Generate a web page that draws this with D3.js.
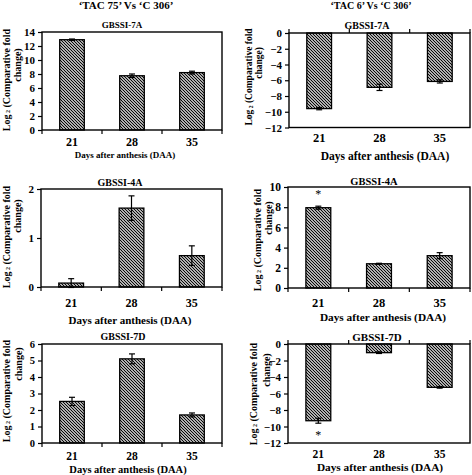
<!DOCTYPE html>
<html><head><meta charset="utf-8">
<script src="https://cdn.jsdelivr.net/npm/d3@7"></script>
<style>body{margin:0;background:#fff}svg{display:block}text{font-family:"Liberation Serif","Times New Roman",serif !important;font-weight:bold;fill:#000}</style>
</head><body><svg id="c" width="472" height="475"></svg>
<script>
// ---- data ----
const days = ["21", "28", "35"];
const comparisons = ["\u2018TAC 75\u2019 Vs \u2018C 306\u2019", "\u2018TAC 6\u2019 Vs \u2018C 306\u2019"];
const genes = ["GBSSI-7A", "GBSSI-7A", "GBSSI-4A", "GBSSI-4A", "GBSSI-7D", "GBSSI-7D"];
const val7A_TAC75 = [12.9, 7.75, 8.2];
const err7A_TAC75 = [0.1, 0.25, 0.2];
const val7A_TAC6 = [-9.6, -6.9, -6.15];
const err7A_TAC6 = [0.15, 0.4, 0.2];
const val4A_TAC75 = [0.08, 1.61, 0.64];
const err4A_TAC75 = [0.09, 0.25, 0.2];
const val4A_TAC6 = [7.95, 2.4, 3.2];
const err4A_TAC6 = [0.15, 0.05, 0.3];
const val7D_TAC75 = [2.52, 5.1, 1.7];
const err7D_TAC75 = [0.25, 0.3, 0.12];
const val7D_TAC6 = [-9.3, -1.05, -5.25];
const err7D_TAC6 = [0.3, 0.1, 0.1];
const star4A_TAC6 = [true, false, false];
const star7D_TAC6 = [true, false, false];
const noStar = [false, false, false];
const ticks0to14 = [0, 2, 4, 6, 8, 10, 12, 14];
const ticksNeg12to0 = [0, -2, -4, -6, -8, -10, -12];
const ticks0to2 = [0, 1, 2];
const ticks0to10 = [0, 2, 4, 6, 8, 10];
const ticks0to6 = [0, 1, 2, 3, 4, 5, 6];
const xTitle = "Days after anthesis (DAA)";
const yTitle1 = "Log";
const yTitleSub = "2";
const yTitle1b = " (Comparative fold";
const yTitle2 = "change)";

// ---- layout ----
const panels = [
  {gene: genes[0], v: val7A_TAC75, e: err7A_TAC75, s: noStar, ticks: ticks0to14, dom: [0, 14],
   x0: 42, x1: 222, y0: 32, y1: 130, tx: 122, ty: 28, tfs: 9, ax: 125, ay: 158, afs: 9, cy: 146, cfs: 12, tkfs: 11,
   l1x: 6, l1y: 80, l2x: 17, l2y: 65, lfs: 10, head: comparisons[0], hx: 126, hy: 9, hfs: 11},
  {gene: genes[1], v: val7A_TAC6, e: err7A_TAC6, s: noStar, ticks: ticksNeg12to0, dom: [-12, 0],
   x0: 289, x1: 470, y0: 33, y1: 127.5, tx: 367, ty: 29, tfs: 10, ax: 385, ay: 160, afs: 11.5, cy: 142, cfs: 12.5, tkfs: 11,
   l1x: 249, l1y: 77, l2x: 259, l2y: 63, lfs: 9.5, head: comparisons[1], hx: 371, hy: 9, hfs: 10},
  {gene: genes[2], v: val4A_TAC75, e: err4A_TAC75, s: noStar, ticks: ticks0to2, dom: [0, 2],
   x0: 41, x1: 222, y0: 189, y1: 287, tx: 120, ty: 186, tfs: 10, ax: 130, ay: 324, afs: 11, cy: 307, cfs: 12, tkfs: 11,
   l1x: 6, l1y: 237, l2x: 17, l2y: 216, lfs: 10},
  {gene: genes[3], v: val4A_TAC6, e: err4A_TAC6, s: star4A_TAC6, ticks: ticks0to10, dom: [0, 10],
   x0: 288, x1: 470, y0: 187, y1: 288, tx: 374, ty: 185, tfs: 10.5, ax: 383, ay: 321, afs: 11.3, cy: 307, cfs: 12.5, tkfs: 11.5,
   l1x: 257, l1y: 240, l2x: 268, l2y: 218, lfs: 10},
  {gene: genes[4], v: val7D_TAC75, e: err7D_TAC75, s: noStar, ticks: ticks0to6, dom: [0, 6],
   x0: 42, x1: 222, y0: 344, y1: 443, tx: 123, ty: 340, tfs: 10, ax: 128, ay: 473, afs: 10.5, cy: 460, cfs: 11.5, tkfs: 10.5,
   l1x: 6, l1y: 391, l2x: 18, l2y: 364, lfs: 10},
  {gene: genes[5], v: val7D_TAC6, e: err7D_TAC6, s: star7D_TAC6, ticks: ticksNeg12to0, dom: [-12, 0],
   x0: 288, x1: 470, y0: 344, y1: 443, tx: 377, ty: 341, tfs: 11, ax: 380, ay: 471, afs: 11.3, cy: 458, cfs: 11.5, tkfs: 11,
   l1x: 253, l1y: 394, l2x: 266, l2y: 370, lfs: 10}
];

const svg = d3.select("#c");
const defs = svg.append("defs");
const pat = defs.append("pattern").attr("id", "hatch").attr("patternUnits", "userSpaceOnUse")
  .attr("width", 3).attr("height", 3);
pat.append("rect").attr("width", 3).attr("height", 3).attr("fill", "#fff");
pat.append("path").attr("d", "M-1,-1L4,4M-1,2L1,4M2,-1L4,1").attr("stroke", "#000").attr("stroke-width", 1.2);

panels.forEach(p => {
  const g = svg.append("g");
  const x = d3.scaleBand().domain(days).range([p.x0, p.x1]).padding(0);
  const y = d3.scaleLinear().domain(p.dom).range([p.y1, p.y0]);
  const neg = p.dom[1] <= 0;
  const y0 = y(0);
  const bw = x.bandwidth() * 0.41;

  // y axis
  const ya = g.append("g").attr("transform", `translate(${p.x0},0)`)
    .call(d3.axisLeft(y).tickValues(p.ticks).tickSize(4).tickPadding(3).tickFormat(d3.format("d")));
  ya.attr("font-family", null).attr("font-size", null);
  ya.select(".domain").remove();
  ya.selectAll("line").attr("stroke", "#000").attr("stroke-width", 1.2);
  ya.selectAll("text").attr("fill", "#000")
    .style("font-family", "'Liberation Serif', serif").style("font-weight", "bold").style("font-size", p.tkfs + "px");

  // x ticks at band boundaries on zero line
  const bounds = days.map(d => x(d)).concat([p.x1]);
  g.selectAll(".xt").data(bounds).join("line")
    .attr("x1", d => d).attr("x2", d => d)
    .attr("y1", y0).attr("y2", neg ? y0 - 4 : y0 + 4)
    .attr("stroke", "#000").attr("stroke-width", 1.2);

  // category labels
  g.selectAll(".cl").data(days).join("text")
    .attr("x", d => x(d) + x.bandwidth() / 2).attr("y", p.cy)
    .attr("text-anchor", "middle").attr("font-size", p.cfs).text(d => d);

  // bars
  const rows = days.map((d, i) => ({d, v: p.v[i], e: p.e[i], s: p.s[i]}));
  g.selectAll(".bar").data(rows).join("rect")
    .attr("x", r => x(r.d) + (x.bandwidth() - bw) / 2)
    .attr("width", bw)
    .attr("y", r => Math.min(y(r.v), y0))
    .attr("height", r => Math.abs(y(r.v) - y0))
    .attr("fill", "url(#hatch)").attr("stroke", "#000").attr("stroke-width", 1.3);

  // error bars
  rows.forEach(r => {
    const cx = x(r.d) + x.bandwidth() / 2;
    const eg = g.append("g").attr("stroke", "#000").attr("stroke-width", 1.2);
    eg.append("line").attr("x1", cx).attr("x2", cx).attr("y1", y(r.v - r.e)).attr("y2", y(r.v + r.e));
    [r.v - r.e, r.v + r.e].forEach(t => eg.append("line")
      .attr("x1", cx - 3).attr("x2", cx + 3).attr("y1", y(t)).attr("y2", y(t)));
    if (r.s) {
      const sy = r.v >= 0 ? y(r.v + r.e) - 8 : y(r.v - r.e) + 16;
      g.append("text").attr("x", cx).attr("y", sy).attr("text-anchor", "middle")
        .attr("font-size", 12).style("font-weight", "normal").attr("fill", "#333").text("*");
    }
  });

  // frame
  g.append("rect").attr("x", p.x0).attr("y", p.y0).attr("width", p.x1 - p.x0).attr("height", p.y1 - p.y0)
    .attr("fill", "none").attr("stroke", "#000").attr("stroke-width", 1.4);

  // titles
  g.append("text").attr("x", p.tx).attr("y", p.ty).attr("text-anchor", "middle").attr("font-size", p.tfs).text(p.gene);
  g.append("text").attr("x", p.ax).attr("y", p.ay).attr("text-anchor", "middle").attr("font-size", p.afs).text(xTitle);
  if (p.head) g.append("text").attr("x", p.hx).attr("y", p.hy).attr("text-anchor", "middle").attr("font-size", p.hfs).text(p.head);

  // y label (rotated, two lines)
  const t1 = g.append("text").attr("transform", `translate(${p.l1x},${p.l1y}) rotate(-90)`)
    .attr("text-anchor", "middle").attr("dominant-baseline", "central").attr("font-size", p.lfs);
  t1.append("tspan").text(yTitle1);
  t1.append("tspan").attr("font-size", p.lfs * 0.6).attr("dy", 2).text(" " + yTitleSub);
  t1.append("tspan").attr("dy", -2).text(yTitle1b);
  g.append("text").attr("transform", `translate(${p.l2x},${p.l2y}) rotate(-90)`)
    .attr("text-anchor", "middle").attr("dominant-baseline", "central").attr("font-size", p.lfs).text(yTitle2);
});
</script></body></html>
